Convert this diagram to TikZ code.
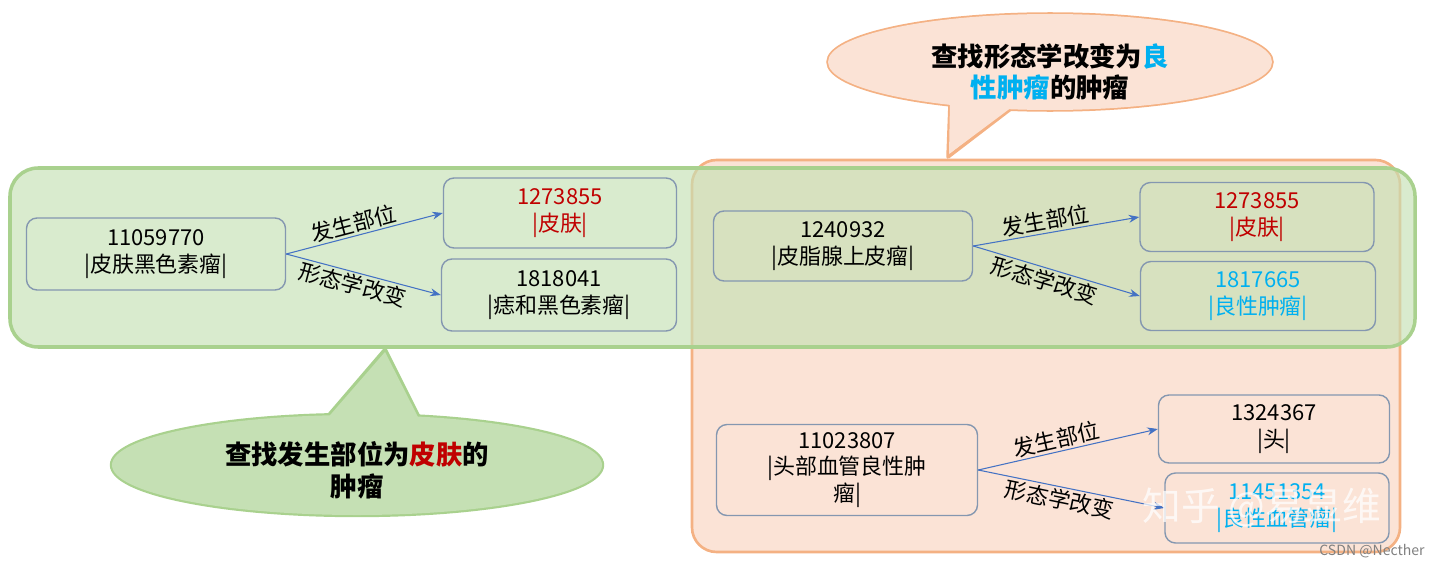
\documentclass[tikz,border=0pt]{standalone}
\usepackage{fontspec}
\setmainfont{Noto Sans CJK SC}
\usetikzlibrary{arrows.meta}
\definecolor{bx}{HTML}{8497B0}
\definecolor{ar}{HTML}{4472C4}
\definecolor{rd}{HTML}{C00000}
\definecolor{bl}{HTML}{00B0F0}
\definecolor{gf}{HTML}{C5E0B4}
\definecolor{gb}{HTML}{A9D18E}
\definecolor{of}{HTML}{FBE3D6}
\definecolor{ob}{HTML}{F4B183}
\begin{document}
\begin{tikzpicture}[x=0.02cm,y=-0.02cm,
 box/.style={draw=bx,line width=0.8pt,rounded corners=6pt,align=center,inner sep=2pt,font=\fontsize{12.5}{15}\selectfont},
 conn/.style={draw=ar,line width=0.6pt,-{Stealth[length=6pt]}},
 lab/.style={font=\fontsize{12.5}{15}\selectfont,sloped,inner sep=1pt}]
\useasboundingbox (0,0) rectangle (1430,568);
% orange region
\draw[fill=of,draw=ob,line width=1.5pt,rounded corners=14pt] (692,160) rectangle (1400,552);
% green region
\draw[fill=gf,fill opacity=0.65,draw=gb,line width=2pt,rounded corners=16pt] (10,168) rectangle (1415,347);
% nodes
\node[box,text width=252*0.02cm,minimum height=72*0.02cm] (A) at (156,254) {11059770\\|皮肤黑色素瘤|};
\node[box,text width=226*0.02cm,minimum height=70*0.02cm,text=rd] (B) at (560,213) {1273855\\|皮肤|};
\node[box,text width=228*0.02cm,minimum height=72*0.02cm] (C) at (559,295) {1818041\\|痣和黑色素瘤|};
\node[box,text width=252*0.02cm,minimum height=70*0.02cm] (D) at (843,246) {1240932\\|皮脂腺上皮瘤|};
\node[box,text width=227*0.02cm,minimum height=69*0.02cm,text=rd] (E) at (1257,217) {1273855\\|皮肤|};
\node[box,text width=228*0.02cm,minimum height=69*0.02cm,text=bl] (F) at (1258,296) {1817665\\|良性肿瘤|};
\node[box,text width=254*0.02cm,minimum height=91*0.02cm] (G) at (847,470) {11023807\\|头部血管良性肿\\瘤|};
\node[box,text width=224*0.02cm,minimum height=68*0.02cm] (H) at (1274,429) {1324367\\|头|};
\node[box,text width=217*0.02cm,minimum height=70*0.02cm,text=bl] (I) at (1277,508) {11451354\\|良性血管瘤|};
% connectors
\draw[conn] (A.east) -- node[lab,above,pos=0.45]{发生部位} (B.west);
\draw[conn] (A.east) -- node[lab,below,pos=0.45]{形态学改变} (C.west);
\draw[conn] (D.east) -- node[lab,above,pos=0.45]{发生部位} (E.west);
\draw[conn] (D.east) -- node[lab,below,pos=0.45]{形态学改变} (F.west);
\draw[conn] (G.east) -- node[lab,above,pos=0.45]{发生部位} (H.west);
\draw[conn] (G.east) -- node[lab,below,pos=0.45]{形态学改变} (I.west);
% green callout
\draw[draw=gb,line width=2.5pt] (357,465) ellipse [x radius=245,y radius=50];
\draw[draw=gb,line width=2.5pt,line join=round] (325,420) -- (385,350) -- (420,420);
\fill[gf] (357,465) ellipse [x radius=245,y radius=50];
\fill[gf] (325,421) -- (385,352) -- (420,421) -- cycle;
\node[align=center,font=\fontsize{15}{18}\selectfont\bfseries] (T1) at (357,470) {查找发生部位为\textcolor{rd}{皮肤}的\\肿瘤};
% orange callout
\draw[draw=ob,line width=2pt] (1050,62) ellipse [x radius=222,y radius=48];
\draw[draw=ob,line width=2pt,line join=round] (950,104) -- (948,157) -- (1012,108);
\fill[of] (1050,62) ellipse [x radius=222,y radius=48];
\fill[of] (950,103) -- (949,154) -- (1012,107) -- cycle;
\node[align=center,font=\fontsize{15}{18}\selectfont\bfseries] (T2) at (1050,72) {查找形态学改变为\textcolor{bl}{良}\\\textcolor{bl}{性肿瘤}的肿瘤};
% watermarks
\node[text=white,opacity=0.75,font=\fontsize{22}{24}\selectfont] (W1) at (1262,508) {知乎 @易显维};
\node[text=gray,font=\fontsize{8}{10}\selectfont] (W2) at (1372,551) {CSDN @Necther};
\end{tikzpicture}
\end{document}
